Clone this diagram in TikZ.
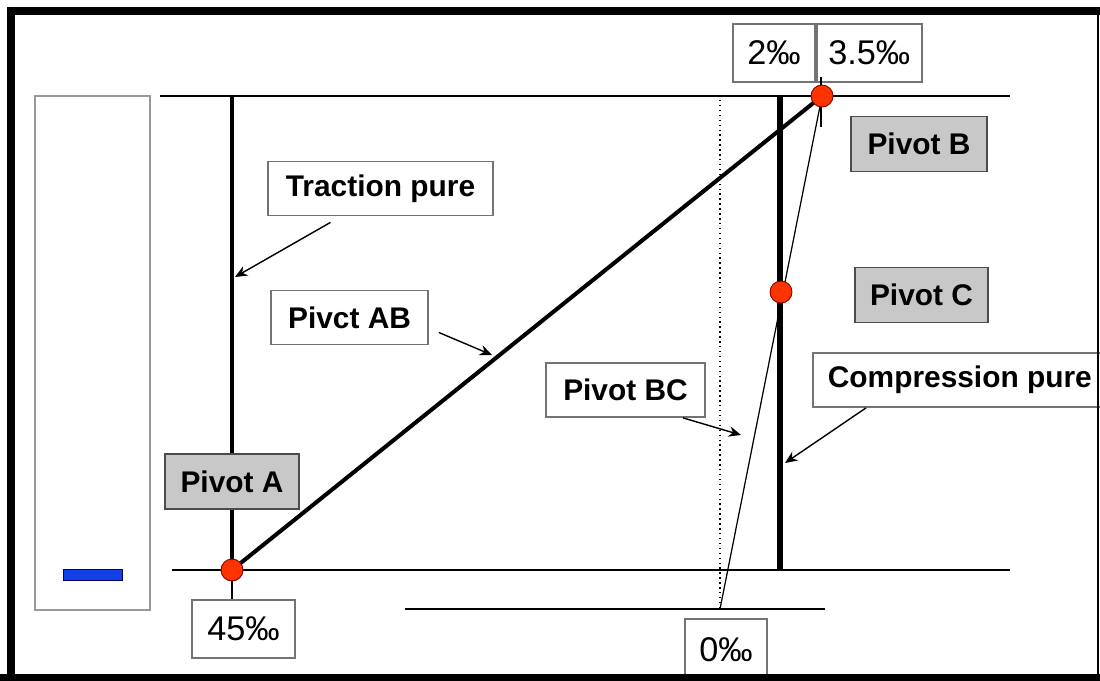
\documentclass[tikz,border=0pt]{standalone}
\usepackage{fontspec}
\setmainfont{Liberation Sans}
\usetikzlibrary{arrows.meta,positioning}
\definecolor{pivotgray}{RGB}{200,200,200}
\definecolor{dotred}{RGB}{255,51,0}
\definecolor{barblue}{RGB}{16,64,230}
\tikzset{
  lbl/.style={draw=black!55, line width=1pt, fill=white, inner sep=0pt, minimum height=10.8mm, font=\fontsize{17}{20}\selectfont\bfseries},
  pvt/.style={draw=black!70, line width=1pt, fill=pivotgray, inner sep=0pt, minimum height=11mm, font=\fontsize{17}{20}\selectfont\bfseries},
  pct/.style={draw=black!55, line width=1pt, fill=white, inner sep=0pt, minimum height=11.6mm, font=\fontsize{19.5}{22}\selectfont},
  pdot/.style={circle, fill=dotred, draw=red!50!black, line width=0.5pt, inner sep=0pt, minimum size=4.4mm},
  ptr/.style={-{Stealth[length=7pt,width=6pt]}, line width=0.8pt},
}
\begin{document}
\begin{tikzpicture}[x=0.2mm,y=-0.2mm]
\useasboundingbox (0,0) rectangle (1100,680);
\clip (0,0) rectangle (1100,680);
\fill[white] (0,0) rectangle (1100,680);
% left panel
\draw[black!40, line width=1.2pt] (35,96) rectangle (150,610);
\draw[fill=barblue, draw=blue!40!black, line width=0.5pt] (63,569) rectangle (122,580);
% points
\coordinate (A) at (232,570);
\coordinate (B) at (822,96);
\coordinate (C) at (781,292);
\coordinate (Z) at (720,609);
% reference lines
\draw[line width=1pt] (160,96) -- (1010,96);
\draw[line width=1pt] (172,570) -- (1010,570);
\draw[line width=1pt] (405,609) -- (825,609);
\draw[dotted, line width=0.8pt] (720,100) -- (Z);
% strain lines
\draw[line width=2.8pt] (232,96) -- (A);
\draw[line width=3.8pt] (780,96) -- (780,570);
\draw[line width=2.3pt] (A) -- (B);
\draw[line width=0.7pt] (B) -- (Z);
% labels
\node[pct, minimum width=16.4mm] (p2) at (774,53) {2‰};
\node[pct, minimum width=21mm, right=0pt of p2] (p35) {3.5‰};
\node[pct, minimum width=20.6mm] (p45) at (243.5,629) {45‰};
\node[pct, minimum width=16.4mm, minimum height=12.4mm] (p0) at (726,650) {0‰};
\node[pvt, minimum width=26.8mm] (pivA) at (232,481.5) {Pivot A};
\node[pvt, minimum width=27.2mm] (pivB) at (919,144) {Pivot B};
\node[pvt, minimum width=26.6mm] (pivC) at (921.5,295) {Pivot C};
\node[lbl, minimum width=45mm] (trac) at (380.5,188.5) {Traction pure};
\node[lbl, minimum width=31.4mm] (pAB) at (349.5,317.5) {Pivct AB};
\node[lbl, minimum width=31.8mm] (pBC) at (625.5,390) {Pivot BC};
\node[lbl, anchor=west, inner xsep=3mm] (comp) at (812,380) {Compression pure};
% ticks
\draw[line width=0.8pt] (821,77) -- (821,127);
\draw[line width=0.8pt] (A) -- (A |- p45.north);
% pivots
\node[pdot] (dA) at (A) {};
\node[pdot] (dB) at (B) {};
\node[pdot] (dC) at (C) {};
% pointers
\coordinate (tTrac) at (235,277);
\coordinate (tAB) at (492,355);
\coordinate (tBC) at (741,435);
\coordinate (tComp) at (785,463);
\draw[ptr] ([xshift=-10mm,yshift=-1.2mm]trac.south) -- (tTrac);
\draw[ptr] ([xshift=2mm,yshift=-3mm]pAB.east) -- (tAB);
\draw[ptr] ([xshift=11.5mm]pBC.south) -- (tBC);
\draw[ptr] ([xshift=10.8mm]comp.south west) -- (tComp);
% frame
\draw[line width=4.5pt] (11,680) -- (11,11) -- (1100,11);
\draw[line width=4pt] (0,677) -- (1100,677);
\draw[line width=0.8pt] (1098,11) -- (1098,680);
\end{tikzpicture}
\end{document}
